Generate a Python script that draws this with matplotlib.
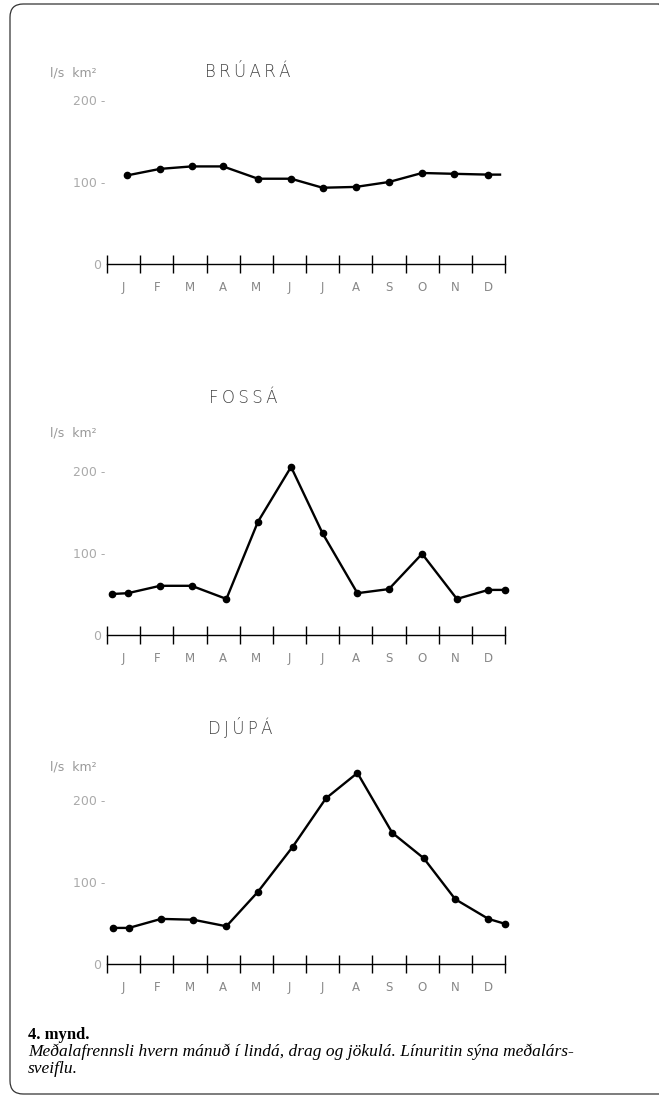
import matplotlib.pyplot as plt
from matplotlib.patches import FancyBboxPatch

# Months (axis labels) and mean runoff, l/s km2
months = ["J", "F", "M", "A", "M", "J", "J", "A", "S", "O", "N", "D"]

bruara_x = [0.6, 1.6, 2.55, 3.5, 4.55, 5.55, 6.5, 7.5, 8.5, 9.5, 10.45, 11.5, 11.85]
bruara_y = [108, 116, 119, 119, 104, 104, 93, 94, 100, 111, 110, 109, 109]

fossa_x = [0.15, 0.63, 1.6, 2.55, 3.6, 4.55, 5.55, 6.5, 7.55, 8.5, 9.5, 10.55, 11.5, 12.0]
fossa_y = [50, 51, 60, 60, 44, 138, 205, 124, 51, 56, 99, 44, 55, 55]

djupa_x = [0.18, 0.66, 1.63, 2.6, 3.6, 4.55, 5.6, 6.6, 7.55, 8.6, 9.55, 10.5, 11.5, 12.0]
djupa_y = [44, 44, 55, 54, 46, 88, 143, 202, 233, 160, 129, 79, 55, 49]

panels = [
    ("BRÚARÁ", bruara_x, bruara_y, 264, 72, 73, 248),
    ("FOSSÁ", fossa_x, fossa_y, 635, 398, 433, 243),
    ("DJÚPÁ", djupa_x, djupa_y, 964, 727, 767, 240),
]

W, H = 659, 1100
fig = plt.figure(figsize=(W / 100, H / 100), dpi=100)

px_per_unit = 0.82  # pixels per l/s km2
x0, x1 = 107, 505
ymax = 250

for title, xs, ys, base, ty, uy, tx in panels:
    top = base - ymax * px_per_unit
    ax = fig.add_axes([x0 / W, 1 - base / H, (x1 - x0) / W, (base - top) / H])
    ax.set_xlim(0, 12)
    ax.set_ylim(0, ymax)
    for s in ["top", "right", "left"]:
        ax.spines[s].set_visible(False)
    ax.spines["bottom"].set_linewidth(1.0)
    ax.set_facecolor("none")

    # the curve (last Brúará point is only the line end, no dot)
    mk = len(xs) if title != "BRÚARÁ" else len(xs) - 1
    ax.plot(xs, ys, color="black", lw=1.7, solid_joinstyle="round", clip_on=False)
    ax.plot(xs[:mk], ys[:mk], "o", color="black", ms=4.5, clip_on=False)

    # month ticks crossing the axis
    ax.set_xticks(range(13))
    ax.tick_params(axis="x", which="major", direction="inout", length=13, width=1.0, labelbottom=False)
    ax.set_xticks([i + 0.5 for i in range(12)], minor=True)
    ax.set_xticklabels(months, minor=True, fontsize=8.5, color="#888888")
    ax.tick_params(axis="x", which="minor", length=0, pad=12)

    ax.set_yticks([0, 100, 200])
    ax.set_yticklabels(["0 ", "100 -", "200 -"], fontsize=9, color="#aaaaaa")
    ax.tick_params(axis="y", length=0, pad=1)

    spaced = "\u2009".join(title)
    fig.text(tx / W, 1 - ty / H, spaced, ha="center", va="center",
             fontsize=12, color="#444444", family="DejaVu Sans", fontweight="light")
    fig.text(50 / W, 1 - uy / H, "l/s  km²", ha="left", va="center",
             fontsize=9, color="#999999")

# caption
fig.text(28 / W, 1 - 1035 / H, "4. mynd.", fontsize=12, fontweight="bold",
         family="Liberation Serif", va="center")
fig.text(28 / W, 1 - 1052 / H,
         "Meðalafrennsli hvern mánuð í lindá, drag og jökulá. Línuritin sýna meðalárs-",
         fontsize=12.5, style="italic", family="Liberation Serif", va="center")
fig.text(28 / W, 1 - 1069 / H, "sveiflu.", fontsize=12.5, style="italic",
         family="Liberation Serif", va="center")

# rounded frame around the whole figure (right edge runs off the scan)
frame = FancyBboxPatch((10 / W, 6 / H), (672 - 10) / W, (1096 - 6) / H,
                       boxstyle="round,pad=0,rounding_size=0.02",
                       transform=fig.transFigure, fill=False, lw=0.9,
                       edgecolor="#333333", mutation_aspect=W / H)
fig.patches.append(frame)

fig.savefig("out.png", dpi=100)
